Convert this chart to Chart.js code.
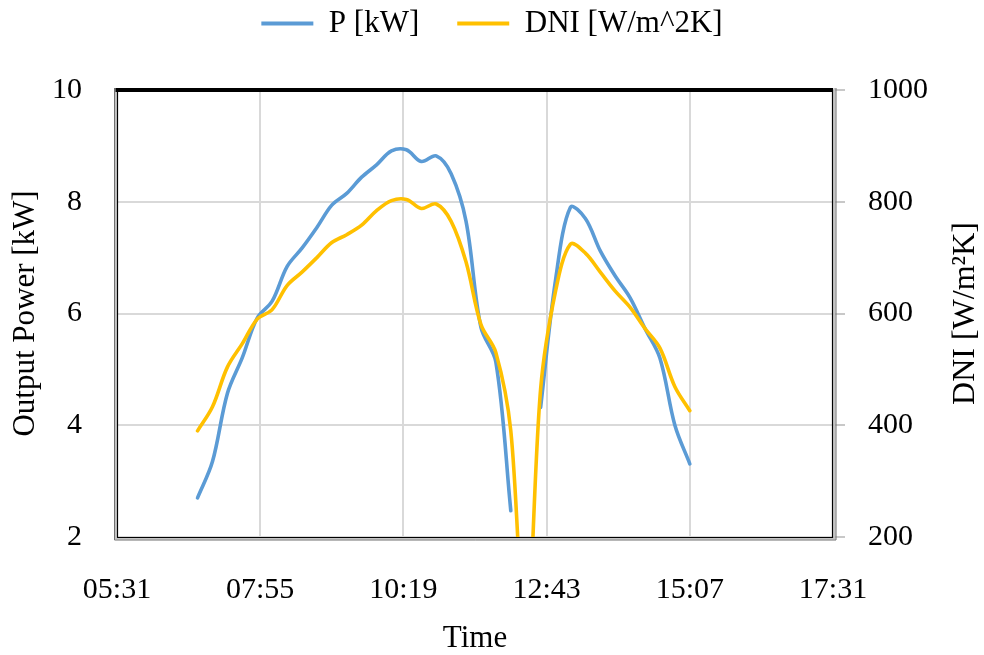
<!DOCTYPE html>
<html>
<head>
<meta charset="utf-8">
<script src="https://cdn.jsdelivr.net/npm/chart.js@4.4.0/dist/chart.umd.min.js"></script>
<style>
  html, body { margin: 0; padding: 0; background: #ffffff; }
  #wrap { width: 984px; height: 655px; }
</style>
</head>
<body>
<div id="wrap"><canvas id="c" width="984" height="655"></canvas></div>
<script>
// ---- data (15-minute samples) ----
const times = ['06:52','07:07','07:22','07:37','07:52','08:07','08:22','08:37','08:52','09:07',
               '09:22','09:37','09:52','10:07','10:22','10:37','10:52','11:07','11:22','11:37',
               '11:52','12:07','12:22','12:37','12:52','13:07','13:22','13:37','13:52','14:07',
               '14:22','14:37','14:52','15:07'];
const powerKW = [2.70, 3.35, 4.57, 5.21, 5.92, 6.22, 6.84, 7.17, 7.54, 7.94,
                 8.15, 8.44, 8.66, 8.91, 8.93, 8.72, 8.82, 8.50, 7.65, 5.75,
                 5.13, 2.47, null, 4.32, 6.60, 7.90, 7.70, 7.12, 6.67, 6.28,
                 5.73, 5.20, 4.00, 3.31];
const dniW = [390, 433, 504, 546, 590, 607, 650, 674, 700, 727,
              741, 758, 784, 802, 804, 788, 796, 765, 692, 580,
              530, 390, 0, 465, 640, 724, 708, 674, 640, 611,
              573, 538, 469, 426];
const xTickLabels = ['05:31','07:55','10:19','12:43','15:07','17:31'];
const leftTicks = [2, 4, 6, 8, 10];
const rightTicks = [200, 400, 600, 800, 1000];
const seriesNames = ['P [kW]', 'DNI [W/m^2K]'];
const axisTitles = { x: 'Time', left: 'Output Power [kW]', right: 'DNI [W/m²K]' };

// ---- helpers ----
const toMin = s => { const p = s.split(':').map(Number); return p[0] * 60 + p[1]; };
const pad2 = n => String(n).padStart(2, '0');
const fmtTime = v => pad2(Math.floor(v / 60)) + ':' + pad2(Math.round(v % 60));

const FONT = "'Liberation Serif', 'Times New Roman', serif";
const BLUE = '#5B9BD5';
const GOLD = '#FFC000';
const GRID = '#d9d9d9';

const pPoints = times.map((t, i) => ({ x: toMin(t), y: powerKW[i] }));
const dPoints = times.map((t, i) => ({ x: toMin(t), y: dniW[i] }));

const legendSpace = {
  id: 'legendSpace',
  beforeInit(chart) {
    const lg = chart.legend;
    const orig = lg.fit;
    lg.fit = function () { orig.call(this); this.height = 120; };
  }
};

const frame = {
  id: 'frame',
  afterDraw(chart) {
    const ctx = chart.ctx;
    const { left, right, top, bottom } = chart.chartArea;
    ctx.save();
    // gray outer band
    ctx.strokeStyle = '#c4c4c4';
    ctx.lineWidth = 2;
    ctx.beginPath();
    ctx.moveTo(left - 1.5, top - 2);
    ctx.lineTo(left - 1.5, bottom + 1.5);
    ctx.lineTo(right + 1.5, bottom + 1.5);
    ctx.lineTo(right + 1.5, top - 2);
    ctx.stroke();
    // dark outer edge
    ctx.strokeStyle = '#707070';
    ctx.lineWidth = 1;
    ctx.beginPath();
    ctx.moveTo(left - 2.5, top - 2);
    ctx.lineTo(left - 2.5, bottom + 3);
    ctx.lineTo(right + 3, bottom + 3);
    ctx.lineTo(right + 3, top - 2);
    ctx.stroke();
    // black inner line
    ctx.strokeStyle = '#000000';
    ctx.lineWidth = 1.2;
    ctx.beginPath();
    ctx.moveTo(left + 0.5, top);
    ctx.lineTo(left + 0.5, bottom + 0.5);
    ctx.lineTo(right - 0.5, bottom + 0.5);
    ctx.lineTo(right - 0.5, top);
    ctx.stroke();
    // thick top
    ctx.lineWidth = 4;
    ctx.beginPath();
    ctx.moveTo(left - 1.5, top);
    ctx.lineTo(right, top);
    ctx.stroke();
    // right axis title (reads bottom-to-top)
    ctx.fillStyle = '#000000';
    ctx.font = '32px ' + FONT;
    ctx.textAlign = 'center';
    ctx.textBaseline = 'middle';
    ctx.translate(right + 133, (top + bottom) / 2);
    ctx.rotate(-Math.PI / 2);
    ctx.fillText(axisTitles.right, 0, 0);
    ctx.restore();
  }
};

new Chart(document.getElementById('c'), {
  type: 'line',
  data: {
    datasets: [
      { label: seriesNames[0], data: pPoints, yAxisID: 'yL', borderColor: BLUE, backgroundColor: BLUE,
        borderWidth: 3.6, pointRadius: 0, tension: 0.34, order: 1, spanGaps: false },
      { label: seriesNames[1], data: dPoints, yAxisID: 'yR', borderColor: GOLD, backgroundColor: GOLD,
        borderWidth: 3.6, pointRadius: 0, tension: 0.34, order: 0 }
    ]
  },
  options: {
    responsive: false,
    animation: false,
    devicePixelRatio: 1,
    events: [],
    layout: { padding: { top: -30, left: 0, right: 0, bottom: 0 } },
    elements: { line: { capBezierPoints: false, borderCapStyle: 'round', borderJoinStyle: 'round' } },
    plugins: {
      tooltip: { enabled: false },
      legend: {
        display: true,
        position: 'top',
        labels: {
          font: { family: FONT, size: 31 },
          color: '#000000',
          boxWidth: 52,
          boxHeight: 4,
          padding: 38,
          generateLabels(chart) {
            const items = Chart.defaults.plugins.legend.labels.generateLabels(chart);
            items.forEach(it => { it.lineWidth = 0; it.strokeStyle = it.fillStyle; });
            items.sort((a, b) => a.datasetIndex - b.datasetIndex);
            return items;
          }
        }
      }
    },
    scales: {
      x: {
        type: 'linear',
        min: toMin(xTickLabels[0]),
        max: toMin(xTickLabels[xTickLabels.length - 1]),
        afterBuildTicks: s => { s.ticks = xTickLabels.map(t => ({ value: toMin(t) })); },
        afterFit: s => { s.height = 118; },
        grid: { color: GRID, lineWidth: 2, drawTicks: false },
        border: { display: false },
        ticks: { callback: v => fmtTime(v), font: { family: FONT, size: 30 }, color: '#000000',
                 padding: 35, maxRotation: 0, autoSkip: false },
        title: { display: true, text: axisTitles.x, font: { family: FONT, size: 31 }, color: '#000000',
                 padding: { top: 0, bottom: -2 } }
      },
      yL: {
        type: 'linear',
        position: 'left',
        min: leftTicks[0],
        max: leftTicks[leftTicks.length - 1],
        afterBuildTicks: s => { s.ticks = leftTicks.map(v => ({ value: v })); },
        afterFit: s => { s.width = 117; },
        grid: { color: GRID, lineWidth: 2, drawTicks: false },
        border: { display: false },
        ticks: { callback: v => String(v), font: { family: FONT, size: 30 }, color: '#000000', padding: 35 },
        title: { display: true, text: axisTitles.left, font: { family: FONT, size: 31 }, color: '#000000',
                 padding: { top: 7, bottom: 0 } }
      },
      yR: {
        type: 'linear',
        position: 'right',
        min: rightTicks[0],
        max: rightTicks[rightTicks.length - 1],
        afterBuildTicks: s => { s.ticks = rightTicks.map(v => ({ value: v })); },
        afterFit: s => { s.width = 151; },
        grid: { drawOnChartArea: false, drawTicks: true, tickLength: 12, color: '#c8c8c8', lineWidth: 2 },
        border: { display: false },
        ticks: { callback: v => String(v), font: { family: FONT, size: 30 }, color: '#000000', padding: 23 },
        title: { display: false }
      }
    }
  },
  plugins: [legendSpace, frame]
});
</script>
</body>
</html>
